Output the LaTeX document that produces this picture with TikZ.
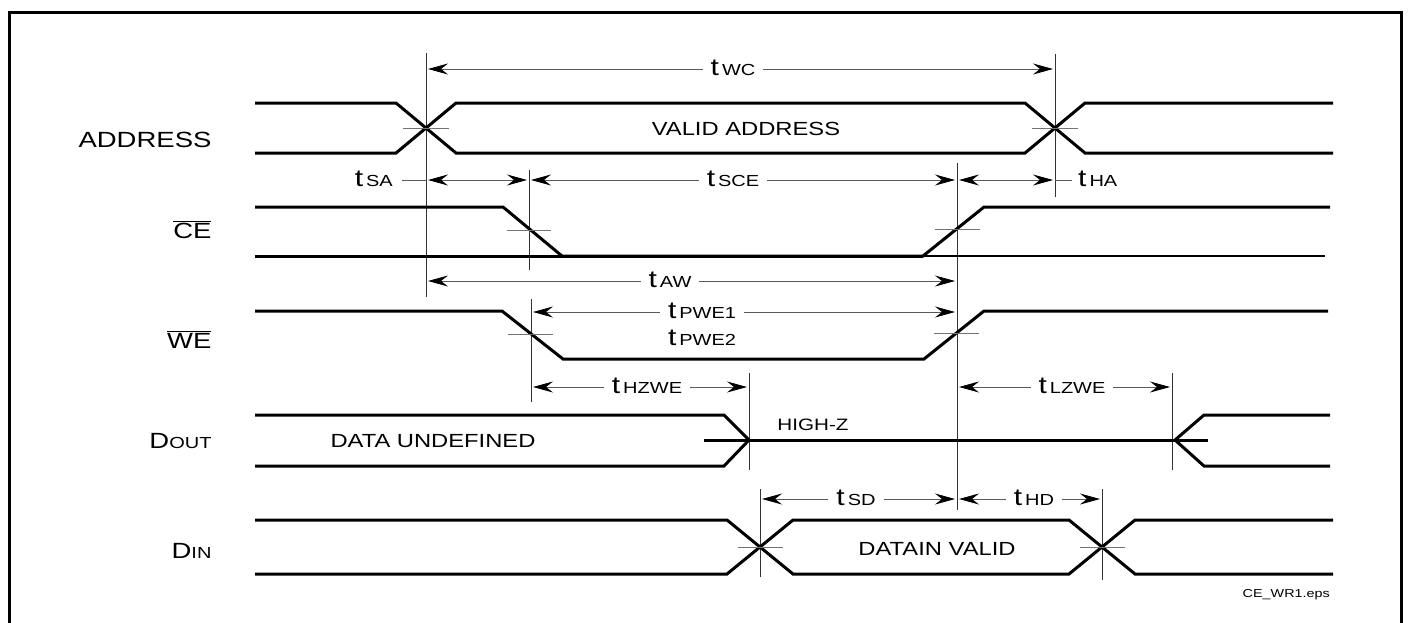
\documentclass[tikz,border=0pt]{standalone}
\usepackage{fontspec}
\setmainfont{Liberation Sans}[FakeStretch=1.25]
\usetikzlibrary{arrows.meta}

\newcommand{\sz}[1]{\fontsize{#1}{#1}\selectfont}
\newcommand{\tm}[1]{{\sz{24}t}\hspace{3pt}{\sz{16}#1}}
\newcommand{\sgn}[2]{{\sz{22}#1}{\sz{16}#2}}

\tikzset{
  sig/.style={line width=3pt},
  crosstick/.style={line width=0.8pt, black!55},
  refline/.style={line width=0.9pt, black!80},
  dimline/.style={line width=0.8pt, black!65,
    {Stealth[length=20pt,width=11pt,inset=7pt,color=black]}-{Stealth[length=20pt,width=11pt,inset=7pt,color=black]},
    shorten <=2pt, shorten >=2pt},
  lead/.style={line width=0.8pt, black!65},
  tlab/.style={fill=white, inner xsep=8pt, inner ysep=1pt, anchor=base},
  signame/.style={anchor=base east},
  txt/.style={anchor=base, inner sep=0pt},
}

\begin{document}
\begin{tikzpicture}[x=1pt,y=-1pt]
\useasboundingbox (0,0) rectangle (1408,622);
\draw[line width=3pt] (9,623) -- (9,12) -- (1401,12) -- (1401,623);

% reference lines
\draw[refline] (426,53) -- (426,297);
\draw[refline] (529,170) -- (529,270);
\draw[refline] (531,299) -- (531,402);
\draw[refline] (957,163) -- (957,510);
\draw[refline] (1055,54) -- (1055,197);
\draw[refline] (749,373) -- (749,470);
\draw[refline] (1172,373) -- (1172,470);
\draw[refline] (760,489) -- (760,577);
\draw[refline] (1102,489) -- (1102,580);

% signal names
\node[signame] (nAddr) at (215,147) {\sz{22}ADDRESS};
\node[signame] (nCe) at (215,238) {\sz{22}$\overline{\mbox{CE}}$};
\node[signame] (nWe) at (215,348) {\sz{22}$\overline{\mbox{WE}}$};
\node[signame] (nDout) at (215,448) {\sgn{D}{OUT}};
\node[signame] (nDin) at (215,558) {\sgn{D}{IN}};

% ADDRESS
\draw[sig] (255,103) -- (396,103) -- (456,153) -- (1025,153) -- (1085,103) -- (1333,103);
\draw[sig] (255,153) -- (396,153) -- (456,103) -- (1025,103) -- (1085,153) -- (1333,153);
\draw[crosstick] (403,128) -- (449,128);
\draw[crosstick] (1032,128) -- (1078,128);
\node[txt] (vAddr) at (746,135) {\sz{19}VALID ADDRESS};

% CE
\draw[sig] (255,256) -- (923,256);
\draw[line width=2.3pt] (923,256) -- (1325,256);
\draw[sig] (255,207) -- (503,207) -- (562,256) -- (923,256) -- (984,207) -- (1330,207);
\draw[crosstick] (507,230) -- (551,230);
\draw[crosstick] (935,229) -- (980,229);

% WE
\draw[sig] (255,311) -- (502,311) -- (563,359) -- (924,359) -- (984,311) -- (1328,311);
\draw[crosstick] (508,334) -- (553,334);
\draw[crosstick] (934,333) -- (979,333);

% DOUT
\draw[sig] (255,415) -- (724,415) -- (749,440);
\draw[sig] (255,466) -- (724,466) -- (749,440);
\draw[sig] (704,440) -- (1208,440);
\draw[sig] (1330,415) -- (1204,415) -- (1175,440) -- (1204,466) -- (1330,466);
\node[txt] (uData) at (433,447) {\sz{19}DATA UNDEFINED};
\node[txt] (hiZ) at (813,430) {\sz{16.5}HIGH-Z};

% DIN
\draw[sig] (255,520) -- (727,520) -- (793,574) -- (1069,574) -- (1135,520) -- (1333,520);
\draw[sig] (255,574) -- (727,574) -- (793,520) -- (1069,520) -- (1135,574) -- (1333,574);
\draw[crosstick] (738,547) -- (783,547);
\draw[crosstick] (1080,547) -- (1125,547);
\node[txt] (vDin) at (937,555) {\sz{19}DATAIN VALID};

% timing arrows
\draw[dimline] (426,69) -- (1055,69);
\node[tlab] (tWC) at (733,75) {\tm{WC}};

\draw[lead] (402,180) -- (426,180);
\draw[dimline] (426,180) -- (529,180);
\node[anchor=base east, inner sep=0pt] (tSA) at (393,186) {\tm{SA}};
\draw[dimline] (529,180) -- (957,180);
\node[tlab] (tSCE) at (733,186) {\tm{SCE}};
\draw[dimline] (957,180) -- (1055,180);
\draw[lead] (1055,180) -- (1072,180);
\node[anchor=base west, inner sep=0pt] (tHA) at (1078,186) {\tm{HA}};

\draw[dimline] (426,281) -- (957,281);
\node[tlab] (tAW) at (670,287) {\tm{AW}};

\draw[dimline] (531,312) -- (957,312);
\node[tlab] (tPWE1) at (702,318) {\tm{PWE1}};
\node[txt] (tPWE2) at (702,345) {\tm{PWE2}};

\draw[dimline] (531,387) -- (749,387);
\node[tlab] (tHZWE) at (647,393) {\tm{HZWE}};
\draw[dimline] (957,387) -- (1172,387);
\node[tlab] (tLZWE) at (1072,393) {\tm{LZWE}};

\draw[dimline] (760,499) -- (957,499);
\node[tlab] (tSD) at (856,505) {\tm{SD}};
\draw[dimline] (957,499) -- (1102,499);
\node[tlab] (tHD) at (1034,505) {\tm{HD}};

\node[anchor=base east, inner sep=0pt] (fname) at (1330,597) {\sz{11.5}CE\_WR1.eps};
\end{tikzpicture}
\end{document}
